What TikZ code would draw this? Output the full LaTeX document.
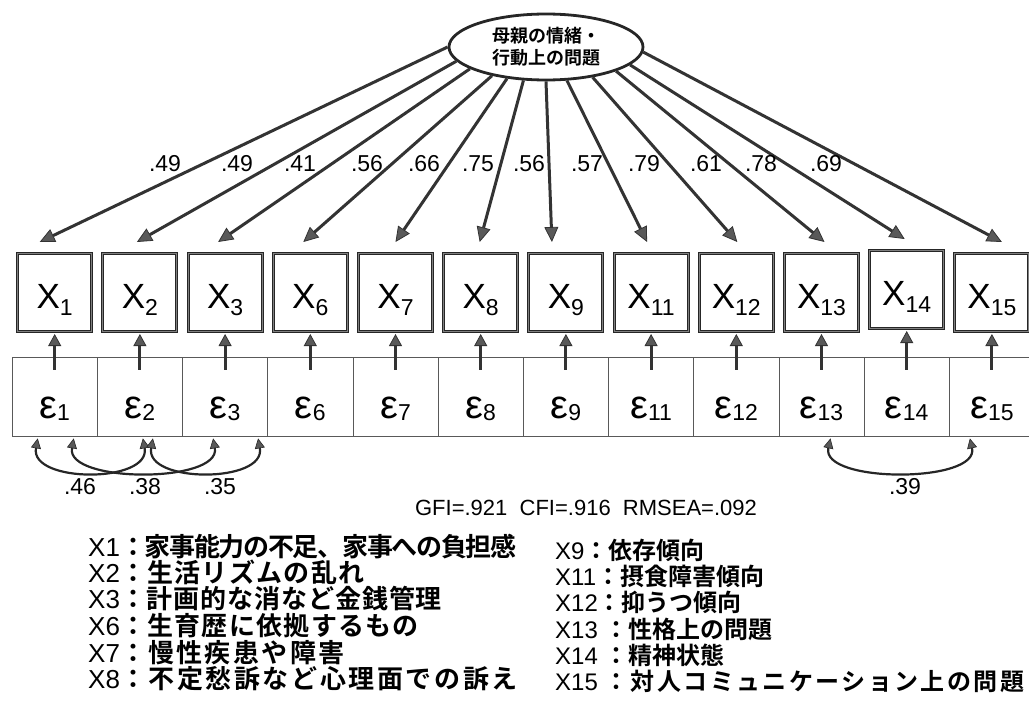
\documentclass[tikz,border=0pt]{standalone}
\usepackage{fontspec}
\setmainfont{Liberation Sans}
\newfontfamily\cjk{Noto Sans CJK JP}[BoldFont={* Bold}]
\usetikzlibrary{arrows.meta,calc,shapes.geometric}
\newcommand{\mkX}[1]{\fontsize{35}{35}\selectfont X\raisebox{-7pt}{\fontsize{23}{23}\selectfont #1}}
\newcommand{\mkE}[1]{\fontsize{40}{40}\selectfont ε\raisebox{-2pt}{\fontsize{23}{23}\selectfont #1}}
\newcommand{\jp}{\cjk\bfseries}
\newcommand{\jps}[2]{{\cjk\bfseries\addfontfeature{LetterSpace=#1}#2}}
\begin{document}
\begin{tikzpicture}[x=1pt,y=-1pt,
  xbox/.style={rectangle, draw=black!85, double=black!50, double distance=1.1pt, line width=1pt,
    minimum width=74pt, minimum height=78pt, inner sep=0pt, text height=33pt, text depth=2pt},
  ebox/.style={rectangle, draw=black!65, line width=0.8pt, minimum width=85.2pt,
    minimum height=79pt, inner sep=0pt, text height=45pt, text depth=2pt},
  larrow/.style={draw=black!80, line width=3pt,
    -{Triangle[length=15pt,width=14pt,fill=black!65,line width=0.8pt]}},
  sarrow/.style={draw=black!80, line width=3pt, shorten >=2pt,
    -{Triangle[length=12pt,width=13pt,fill=black!65,line width=0.8pt]}},
  carrow/.style={draw=black!85, line width=2.2pt,
    {Triangle[length=10pt,width=10pt,fill=black!65,line width=0.6pt]}-{Triangle[length=10pt,width=10pt,fill=black!65,line width=0.6pt]}},
  num/.style={inner sep=0pt, font=\fontsize{23}{23}\selectfont},
  leg/.style={inner sep=0pt, anchor=base west, font=\fontsize{24}{24}\selectfont},
  legl/.style={leg, font=\fontsize{26}{26}\selectfont}
]
\useasboundingbox (0,0) rectangle (1029,712);

% latent factor
\node[ellipse, draw=black!85, line width=2.8pt, minimum width=194pt, minimum height=66pt,
  inner sep=0pt, align=center, font={\jp\fontsize{18}{22}\selectfont}] (F) at (546,47)
  {母親の情緒・\\行動上の問題};

% indicators and errors
\foreach \n [count=\i from 0] in {1,2,3,6,7,8,9,11,12,13,14,15} {
  \pgfmathsetmacro\dy{\n==14 ? -3 : 0}
  \node[ebox] (e\n) at ({54.7+85.2*\i},396.5) {\mkE{\n}};
  \node[xbox] (X\n) at ({54.7+85.2*\i},{292.5+\dy}) {\mkX{\n}};
  \draw[sarrow] ($(e\n.north)+(0,13)$) -- (X\n.south);
}

% loadings
\foreach \n/\a/\dx in {1/180/-15, 2/189/-3, 3/196/-7, 6/208/-7, 7/219/0, 8/236/-1,
  9/270/-14, 11/302/-4, 12/327/1, 13/341/3, 14/348/-2, 15/357/10} {
  \draw[larrow] (F.\a) -- ($(X\n.north)+(\dx,-11)$);
}

% loading values
\foreach \v/\x [count=\k] in {.49/165, .49/237, .41/300, .56/367, .66/424, .75/478,
  .56/529, .57/587, .79/644, .61/706, .78/761, .69/826} {
  \node[num] (l\k) at (\x,164) {\v};
}

% error covariances
\draw[carrow] ($(e1.south)+(-17,2)$) .. controls ($(e1.south)+(-25,47)$) and ($(e2.south)+(11,47)$) .. ($(e2.south)+(3,2)$);
\draw[carrow] ($(e1.south)+(19,2)$) .. controls ($(e1.south)+(11,47)$) and ($(e3.south)+(-4,47)$) .. ($(e3.south)+(-12,2)$);
\draw[carrow] ($(e2.south)+(13,2)$) .. controls ($(e2.south)+(5,47)$) and ($(e3.south)+(41,47)$) .. ($(e3.south)+(33,2)$);
\draw[carrow] ($(e13.south)+(9,2)$) .. controls ($(e13.south)+(-1,47)$) and ($(e15.south)+(-12,47)$) .. ($(e15.south)+(-22,2)$);
\node[num] (c1) at (80,487) {.46};
\node[num] (c2) at (145,487) {.38};
\node[num] (c3) at (220,487) {.35};
\node[num] (c4) at (905,487) {.39};

% fit indices
\node[num, font=\fontsize{22}{22}\selectfont] (fit) at (586,508) {GFI=.921\ \ CFI=.916\ \ RMSEA=.092};

% legend
\node[legl] (L1) at (88,556) {X1\jps{-5}{：家事能力の不足、家事への負担感}};
\node[legl] (L2) at (88,582) {X2\jps{5}{：生活リズムの乱れ}};
\node[legl] (L3) at (88,608) {X3\jps{3.5}{：計画的な消など金銭管理}};
\node[legl] (L4) at (88,635) {X6\jps{5}{：生育歴に依拠するもの}};
\node[legl] (L5) at (88,662) {X7\jps{9}{：慢性疾患や障害}};
\node[legl] (L6) at (88,688) {X8\jps{10}{：不定愁訴など心理面での訴え}};
\node[leg] (R1) at (555,559) {X9{\jp ：依存傾向}};
\node[leg] (R2) at (555,585) {X11{\jp ：摂食障害傾向}};
\node[leg] (R3) at (555,611) {X12{\jp ：抑うつ傾向}};
\node[leg] (R4) at (555,638) {X13 {\jp ：性格上の問題}};
\node[leg] (R5) at (555,664) {X14 {\jp ：精神状態}};
\node[leg] (R6) at (555,690) {X15 \jps{10}{：対人コミュニケーション上の問題}};
\end{tikzpicture}
\end{document}
